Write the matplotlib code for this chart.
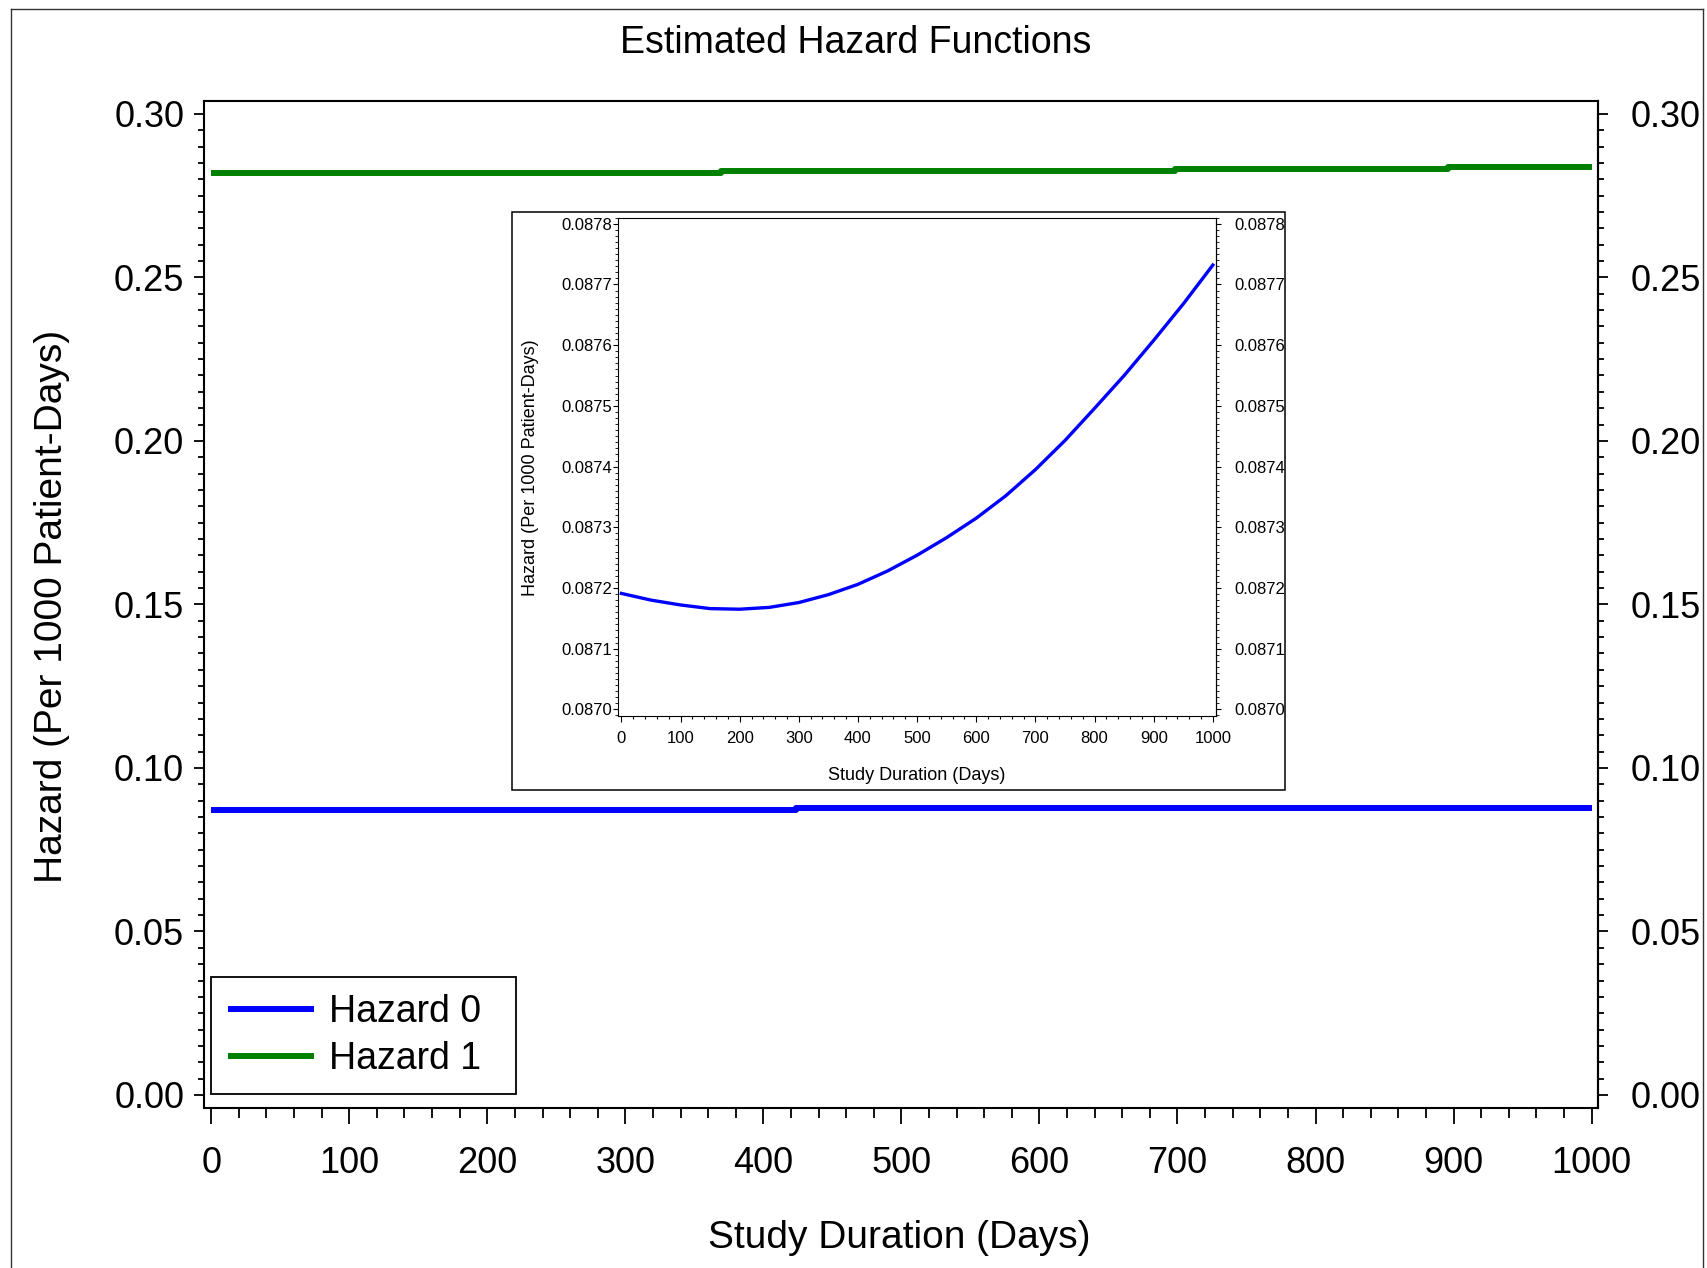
import matplotlib
matplotlib.use("Agg")
import matplotlib.pyplot as plt
import numpy as np
from matplotlib.ticker import MultipleLocator, FormatStrFormatter
from matplotlib.patches import Rectangle
from matplotlib.lines import Line2D

plt.rcParams['font.family'] = ['Liberation Sans', 'DejaVu Sans']

# ================================
# Data
# ================================
# main panel: hazards as drawn (step look of the original)
hazard0_days = [0, 424, 1000]
hazard0 = [0.0870, 0.0876, 0.0876]
hazard1_days = [0, 369, 698, 896, 1000]
hazard1 = [0.2819, 0.2825, 0.2831, 0.2839, 0.2839]

# inset: zoom on hazard 0
inset_days = [0, 50, 100, 150, 200, 250, 300, 350, 400, 450, 500,
              550, 600, 650, 700, 750, 800, 850, 900, 950, 1000]
inset_hazard0 = [0.087191, 0.087180, 0.087172, 0.087166, 0.087165, 0.087168,
                 0.087176, 0.087189, 0.087206, 0.087228, 0.087254, 0.087283,
                 0.087315, 0.087352, 0.087395, 0.087443, 0.087496, 0.087550,
                 0.087608, 0.087668, 0.087732]

labels = ["Hazard 0", "Hazard 1"]
colors = ["#0000FF", "#008000"]

main_xticks = np.arange(0, 1001, 100)
main_yticks = [0.00, 0.05, 0.10, 0.15, 0.20, 0.25, 0.30]
inset_yticks = [0.0870, 0.0871, 0.0872, 0.0873, 0.0874, 0.0875, 0.0876, 0.0877, 0.0878]

fig = plt.figure(figsize=(17.07, 12.68), dpi=100)

# ================================
# Main panel
# ================================
ax = fig.add_axes([0.1193, 0.1262, 0.8168, 0.7941])
ax.plot(hazard0_days, hazard0, drawstyle="steps-post", color=colors[0],
        lw=4.3, solid_capstyle="butt", label=labels[0])
ax.plot(hazard1_days, hazard1, drawstyle="steps-post", color=colors[1],
        lw=4.3, solid_capstyle="butt", label=labels[1])

ax.set_xlim(-5.5, 1004.6)
ax.set_ylim(-0.00397, 0.30391)
ax.set_xticks(main_xticks)
ax.xaxis.set_minor_locator(MultipleLocator(20))
ax.set_yticks(main_yticks)
ax.yaxis.set_minor_locator(MultipleLocator(0.005))
ax.yaxis.set_major_formatter(FormatStrFormatter("%.2f"))

for s in ax.spines.values():
    s.set_linewidth(1.5)

ax.tick_params(axis="x", which="major", direction="out", length=11.5, width=1.3,
               labelsize=26, pad=16, top=False)
ax.tick_params(axis="x", which="minor", direction="out", length=7, width=1.3, top=False)
ax.tick_params(axis="y", which="major", direction="out", length=7, width=1.3,
               labelsize=26, pad=7, right=False)
ax.tick_params(axis="y", which="minor", direction="out", length=4, width=1.3, right=False)

right = ax.secondary_yaxis("right")
right.set_yticks(main_yticks)
right.yaxis.set_minor_locator(MultipleLocator(0.005))
right.yaxis.set_major_formatter(FormatStrFormatter("%.2f"))
right.tick_params(axis="y", which="major", direction="out", length=7, width=1.3,
                  labelsize=26, pad=16.5)
right.tick_params(axis="y", which="minor", direction="out", length=4, width=1.3)
right.spines["right"].set_linewidth(1.5)

ax.set_xlabel("Study Duration (Days)", fontsize=28, va="center")
ax.xaxis.set_label_coords(0.4987, -0.129)
ax.set_ylabel("Hazard (Per 1000 Patient-Days)", fontsize=28, va="center")
ax.yaxis.set_label_coords(-0.1087, 0.4985)

leg = ax.legend(loc="lower left", bbox_to_anchor=(0.0053, 0.0139, 0.2187, 0.1),
                mode="expand", fontsize=27,
                handlelength=2.3, handletextpad=0.4, labelspacing=0.3,
                borderpad=0.45, borderaxespad=0, fancybox=False, framealpha=1)
leg.get_frame().set_edgecolor("black")
leg.get_frame().set_linewidth(1.3)

fig.text(0.5015, 0.966, "Estimated Hazard Functions", fontsize=27,
         ha="center", va="center")

# ================================
# Inset panel
# ================================
fig.add_artist(Rectangle((0.2998, 0.3770), 0.4530, 0.4560, transform=fig.transFigure,
                         fill=False, edgecolor="black", linewidth=1.1))

ins = fig.add_axes([0.3623, 0.4353, 0.3503, 0.3930])
ins.set_zorder(2)
ins.plot(inset_days, inset_hazard0, color=colors[0], lw=2.4)
ins.set_xlim(-5, 1006)
ins.set_ylim(0.086989, 0.087810)
ins.set_xticks(main_xticks)
ins.xaxis.set_minor_locator(MultipleLocator(20))
ins.set_yticks(inset_yticks)
ins.yaxis.set_minor_locator(MultipleLocator(0.00001))
ins.yaxis.set_major_formatter(FormatStrFormatter("%.4f"))
for s in ins.spines.values():
    s.set_linewidth(0.8)
ins.tick_params(axis="x", which="major", direction="out", length=4, width=0.8,
                labelsize=12, pad=7, top=False)
ins.tick_params(axis="x", which="minor", direction="out", length=2.4, width=0.8, top=False)
ins.tick_params(axis="y", which="major", direction="out", length=3.6, width=0.8,
                labelsize=12, pad=1, right=False)
ins.tick_params(axis="y", which="minor", direction="out", length=2, width=0.6, right=False)

ins_right = ins.secondary_yaxis("right")
ins_right.set_yticks(inset_yticks)
ins_right.yaxis.set_minor_locator(MultipleLocator(0.00001))
ins_right.yaxis.set_major_formatter(FormatStrFormatter("%.4f"))
ins_right.tick_params(axis="y", which="major", direction="out", length=3.6, width=0.8,
                      labelsize=12, pad=9)
ins_right.tick_params(axis="y", which="minor", direction="out", length=2, width=0.6)
ins_right.spines["right"].set_linewidth(0.8)

ins.set_xlabel("Study Duration (Days)", fontsize=13, va="center")
ins.xaxis.set_label_coords(0.4987, -0.1184)
ins.set_ylabel("Hazard (Per 1000 Patient-Days)", fontsize=13, va="center")
ins.yaxis.set_label_coords(-0.147, 0.4977)

# outer frame of the picture (bottom edge is cut off in the original)
for xs, ys in [([0.0064, 0.0064], [0.0, 0.9929]),
               ([0.0064, 0.9977], [0.9929, 0.9929]),
               ([0.9977, 0.9977], [0.0, 0.9929])]:
    fig.add_artist(Line2D(xs, ys, transform=fig.transFigure, color="#333333", lw=1.0))

fig.savefig("out.png", dpi=100)
